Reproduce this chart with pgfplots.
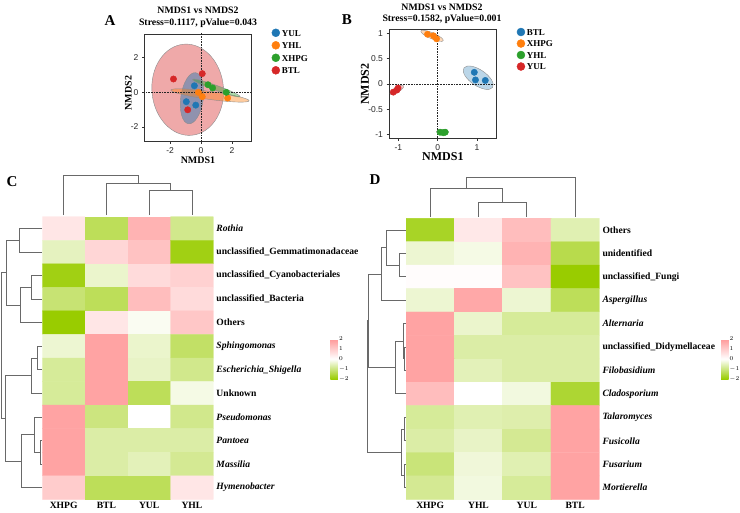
\documentclass[border=0pt]{standalone}
\usepackage{pgfplots}
\usepackage{pgfplotstable}
\pgfplotsset{compat=1.18}
\usetikzlibrary{shapes.geometric}
\usepackage{fontspec}
\setmainfont{Liberation Serif}
\newfontfamily\sansf{Liberation Sans}
\definecolor{tblue}{RGB}{31,119,180}
\definecolor{torange}{RGB}{255,127,14}
\definecolor{tgreen}{RGB}{44,160,44}
\definecolor{tred}{RGB}{214,39,40}
\definecolor{dendro}{RGB}{105,105,105}
\newcommand\tfont{\bfseries\fontsize{9.8}{11}\selectfont}
\newcommand\rowfont{\bfseries\fontsize{9.6}{11}\selectfont}

% confidence ellipse: colour, semi-axes (pt), angle
\tikzset{ell/.style n args={4}{ellipse, inner sep=0pt, outer sep=0pt, fill=#1, fill opacity=0.4,
  draw=black!45, line width=0.4pt, minimum width=2*#2, minimum height=2*#3, rotate=#4}}
\pgfplotsset{
  colormap={hm}{rgb255=(153,204,0) rgb255=(255,255,255) rgb255=(255,153,153)},
  nmds/.style={scale only axis, anchor=south west, tick pos=left, tick align=outside,
    major tick length=2.5pt, clip=true,
    axis line style={black!80, line width=0.6pt}, tick style={black!80, line width=0.6pt},
    ticklabel style={font=\sansf\fontsize{8.5}{9}\selectfont, text=black!85},
    legend style={draw=none, fill=none, inner sep=0pt, outer sep=0pt, anchor=north west,
      font=\bfseries\fontsize{9}{10}\selectfont, row sep=2pt,
      nodes={text height=6.5pt, text depth=0pt}},
    legend cell align=left},
  pt/.style={only marks, mark=*, mark size=3.2pt, color=#1,
    legend image code/.code={\draw[##1, mark size=4pt] plot coordinates {(0pt,0pt)};}},
  heat/.style={scale only axis, anchor=north west,
    xmin=-0.5, xmax=3.5, ymin=-0.5, ymax=11.5, y dir=reverse,
    axis line style={draw=none}, major tick length=0pt, tick style={draw=none},
    xtick={0,1,2,3}, ytick={0,...,11}, yticklabel pos=right,
    ticklabel style={font=\rowfont},
    xticklabel style={anchor=north, inner sep=0pt, yshift=-3pt},
    yticklabel style={anchor=west, inner sep=0pt, xshift=3pt},
    colormap name=hm, point meta min=-2, point meta max=2},
  cbar/.style 2 args={colorbar, colorbar style={at={(parent axis.north east)},
    anchor=north west, xshift=#1, yshift=#2, scale only axis, width=7.5pt, height=40pt,
    axis line style={draw=none}, major tick length=0pt, ytick={-2,-1,0,1,2},
    yticklabel style={font=\bfseries\fontsize{6}{6}\selectfont, inner sep=1pt}}},
  dend/.style={dendro, line width=0.8pt, mark=none},
}

% row z-scores, panel C (columns XHPG, BTL, YUL, YHL)
\pgfplotstableread{
x y c
0 0 0.5
1 0 -1.3
2 0 1.5
3 0 -0.9
0 1 -0.5
1 1 0.8
2 1 1.2
3 1 -1.85
0 2 -1.85
1 2 -0.4
2 2 0.7
3 2 0.9
0 3 -1.1
1 3 -1.3
2 3 1.3
3 3 0.7
0 4 -2.0
1 4 0.5
2 4 -0.1
3 4 1.1
0 5 -0.35
1 5 1.8
2 5 -0.4
3 5 -1.2
0 6 -0.8
1 6 1.8
2 6 -0.45
3 6 -0.9
0 7 -0.8
1 7 1.8
2 7 -1.3
3 7 -0.2
0 8 1.8
1 8 -1.0
2 8 0.0
3 8 -0.9
0 9 1.8
1 9 -0.7
2 9 -0.7
3 9 -0.7
0 10 1.8
1 10 -0.7
2 10 -0.55
3 10 -0.85
0 11 1.0
1 11 -1.3
2 11 -1.3
3 11 0.5
}\hmC

% row z-scores, panel D (columns XHPG, YHL, YUL, BTL)
\pgfplotstableread{
x y c
0 0 -1.7
1 0 0.45
2 0 1.3
3 0 -0.6
0 1 -0.35
1 1 -0.2
2 1 1.5
3 1 -1.4
0 2 0.05
1 2 0.05
2 2 1.2
3 2 -2.0
0 3 -0.35
1 3 1.7
2 3 -0.35
3 3 -1.3
0 4 1.8
1 4 -0.4
2 4 -0.8
3 4 -0.8
0 5 1.8
1 5 -0.7
2 5 -0.7
3 5 -0.7
0 6 1.8
1 6 -0.55
2 6 -0.7
3 6 -0.7
0 7 1.3
1 7 0.0
2 7 -0.25
3 7 -1.6
0 8 -0.8
1 8 -0.6
2 8 -0.65
3 8 1.8
0 9 -0.7
1 9 -0.45
2 9 -0.85
3 9 1.8
0 10 -1.05
1 10 -0.3
2 10 -0.6
3 10 1.8
0 11 -0.85
1 11 -0.25
2 11 -0.8
3 11 1.8
}\hmD

\begin{document}
\begin{tikzpicture}
\useasboundingbox (0pt,0pt) rectangle (740pt,-513pt);

% ---- dendrograms, drawn in pixel coordinates of the whole figure
\begin{axis}[at={(0pt,0pt)}, anchor=north west, scale only axis, width=740pt, height=513pt,
  xmin=0, xmax=740, ymin=0, ymax=513, y dir=reverse, hide axis, clip=false]
% C, columns
\addplot[dend] coordinates {(149.5,215) (149.5,190.7) (192,190.7) (192,215)};
\addplot[dend] coordinates {(106.7,215) (106.7,183.3) (170.75,183.3) (170.75,190.7)};
\addplot[dend] coordinates {(63.7,215) (63.7,175.7) (138.7,175.7) (138.7,183.3)};
% C, rows
\addplot[dend] coordinates {(41.5,228.5) (19,228.5) (19,252) (41.5,252)};
\addplot[dend] coordinates {(41.5,275.6) (31.7,275.6) (31.7,299.1) (41.5,299.1)};
\addplot[dend] coordinates {(31.7,287.35) (20,287.35) (20,322.7) (41.5,322.7)};
\addplot[dend] coordinates {(19,240.25) (6,240.25) (6,305) (20,305)};
\addplot[dend] coordinates {(41.5,346.2) (37.7,346.2) (37.7,369.8) (41.5,369.8)};
\addplot[dend] coordinates {(37.7,358) (31,358) (31,393.3) (41.5,393.3)};
\addplot[dend] coordinates {(41.5,440.4) (40.3,440.4) (40.3,464) (41.5,464)};
\addplot[dend] coordinates {(41.5,416.9) (34.3,416.9) (34.3,452.2) (40.3,452.2)};
\addplot[dend] coordinates {(34.3,434.55) (21.7,434.55) (21.7,487.5) (41.5,487.5)};
\addplot[dend] coordinates {(31,375.65) (5,375.65) (5,461) (21.7,461)};
\addplot[dend] coordinates {(6,272.6) (1.7,272.6) (1.7,418.3) (5,418.3)};
% D, columns
\addplot[dend] coordinates {(478.5,216.7) (478.5,202.3) (526.8,202.3) (526.8,216.7)};
\addplot[dend] coordinates {(430.2,216.7) (430.2,188.3) (502.65,188.3) (502.65,202.3)};
\addplot[dend] coordinates {(466.4,188.3) (466.4,177.3) (575.2,177.3) (575.2,216.7)};
% D, rows
\addplot[dend] coordinates {(405.5,253.4) (399.3,253.4) (399.3,276.8) (405.5,276.8)};
\addplot[dend] coordinates {(405.5,230) (386,230) (386,265.1) (399.3,265.1)};
\addplot[dend] coordinates {(386,247.55) (381,247.55) (381,300.2) (405.5,300.2)};
\addplot[dend] coordinates {(405.5,347) (404.8,347) (404.8,370.4) (405.5,370.4)};
\addplot[dend] coordinates {(405.5,323.6) (403.3,323.6) (403.3,358.7) (404.8,358.7)};
\addplot[dend] coordinates {(403.3,341.15) (395,341.15) (395,393.8) (405.5,393.8)};
\addplot[dend] coordinates {(405.5,417.2) (404.3,417.2) (404.3,440.6) (405.5,440.6)};
\addplot[dend] coordinates {(405.5,464) (404.6,464) (404.6,487.4) (405.5,487.4)};
\addplot[dend] coordinates {(404.3,428.9) (401.7,428.9) (401.7,475.7) (404.6,475.7)};
\addplot[dend] coordinates {(381,273.9) (368.8,273.9) (368.8,367.5) (395,367.5)};
\addplot[dend] coordinates {(368.8,320.7) (367.8,320.7) (367.8,452.3) (401.7,452.3)};
\end{axis}

% ---- panel A
\begin{axis}[nmds, at={(144.5pt,-141.5pt)}, width=107pt, height=107.5pt,
  xmin=-3.65, xmax=3.26, ymin=-2.84, ymax=3.37,
  xtick={-2,0,2}, xticklabels={-2,0,2}, ytick={-2,0,2}, yticklabels={-2,0,2},
  xlabel={NMDS1}, ylabel={NMDS2},
  label style={font=\bfseries\fontsize{10}{11}\selectfont},
  xlabel style={at={(axis description cs:0.5,-0.172)}, anchor=center},
  ylabel style={at={(axis description cs:-0.15,0.45)}, anchor=center},
  legend style={at={(1.19,1.06)}}]
\node[ell={tred}{35.8pt}{45.7pt}{5}] at (axis cs:-0.86,0.15) {};
\node[ell={tblue}{11.3pt}{25.8pt}{-8}, fill opacity=0.45] at (axis cs:-0.58,-0.34) {};
\node[ell={torange}{39.5pt}{4pt}{-7.8}] at (axis cs:0.58,-0.18) {};
\node[ell={tgreen}{25.2pt}{2.5pt}{-20}] at (axis cs:0.99,0.25) {};
\draw[densely dotted, black!85, line width=0.6pt] (axis cs:0,-5) -- (axis cs:0,5);
\draw[densely dotted, black!85, line width=0.6pt] (axis cs:-5,0) -- (axis cs:5,0);
\addplot[pt=tblue] coordinates {(-0.43,0.38) (-0.95,-0.54) (-0.34,-0.74)};
\addlegendentry{YUL}
\addplot[pt=torange] coordinates {(-0.17,0.0) (0.08,-0.25) (1.72,-0.33)};
\addlegendentry{YHL}
\addplot[pt=tgreen] coordinates {(0.45,0.44) (0.75,0.25) (1.63,0.0)};
\addlegendentry{XHPG}
\addplot[pt=tred] coordinates {(-1.78,0.77) (0.08,1.08) (-0.86,-1.01)};
\addlegendentry{BTL}
\end{axis}

% ---- panel B
\begin{axis}[nmds, at={(389pt,-138.3pt)}, width=107.7pt, height=108.6pt,
  xmin=-1.24, xmax=1.50, ymin=-1.07, ymax=1.07,
  xtick={-1,0,1}, xticklabels={-1,0,1},
  ytick={-1,-0.5,0,0.5,1}, yticklabels={-1,-0.5,0,0.5,1},
  xlabel={NMDS1}, ylabel={NMDS2},
  label style={font=\bfseries\fontsize{12}{13}\selectfont},
  xlabel style={at={(axis description cs:0.5,-0.17)}, anchor=center},
  ylabel style={at={(axis description cs:-0.223,0.5)}, anchor=center},
  legend style={at={(1.188,1.027)}, row sep=1pt}]
\node[ell={tblue}{17.3pt}{8pt}{-34}, fill opacity=0.3] at (axis cs:1.03,0.124) {};
\node[ell={torange}{12.2pt}{3pt}{-23.5}, fill opacity=0.3] at (axis cs:-0.145,0.95) {};
\node[ell={tgreen}{6pt}{2.5pt}{0}, fill opacity=0.3] at (axis cs:0.12,-0.94) {};
\node[ell={tred}{7.8pt}{2.5pt}{31}, fill opacity=0.3] at (axis cs:-1.04,-0.118) {};
\draw[densely dotted, black!85, line width=0.6pt] (axis cs:0,-5) -- (axis cs:0,5);
\draw[densely dotted, black!85, line width=0.6pt] (axis cs:-5,0) -- (axis cs:5,0);
\addplot[pt=tblue] coordinates {(0.93,0.23) (0.96,0.08) (1.21,0.07)};
\addlegendentry{BTL}
\addplot[pt=torange] coordinates {(-0.26,0.98) (-0.11,0.95) (-0.03,0.89)};
\addlegendentry{XHPG}
\addplot[pt=tgreen] coordinates {(0.06,-0.95) (0.14,-0.96) (0.19,-0.95)};
\addlegendentry{YHL}
\addplot[pt=tred] coordinates {(-1.13,-0.16) (-1.04,-0.12) (-1.01,-0.08)};
\addlegendentry{YUL}
\end{axis}

% ---- panel C
\begin{axis}[heat, at={(42.3pt,-216.7pt)}, width=171pt, height=282.6pt,
  xticklabels={XHPG,BTL,YUL,YHL},
  yticklabels={\textit{Rothia}, unclassified\_Gemmatimonadaceae, unclassified\_Cyanobacteriales,
    unclassified\_Bacteria, Others, \textit{Sphingomonas}, \textit{Escherichia\_Shigella}, Unknown,
    \textit{Pseudomonas}, \textit{Pantoea}, \textit{Massilia}, \textit{Hymenobacter}},
  cbar={108.5pt}{-122.3pt}]
\addplot[matrix plot*, mesh/cols=4, point meta=explicit] table[x=x, y=y, meta=c] {\hmC};
\end{axis}

% ---- panel D
\begin{axis}[heat, at={(406pt,-218.3pt)}, width=193.3pt, height=281pt,
  xticklabels={XHPG,YHL,YUL,BTL},
  yticklabels={Others, unidentified, unclassified\_Fungi, \textit{Aspergillus}, \textit{Alternaria},
    unclassified\_Didymellaceae, \textit{Filobasidium}, \textit{Cladosporium}, \textit{Talaromyces},
    \textit{Fusicolla}, \textit{Fusarium}, \textit{Mortierella}},
  cbar={113.2pt}{-120.7pt}]
\addplot[matrix plot*, mesh/cols=4, point meta=explicit] table[x=x, y=y, meta=c] {\hmD};
\end{axis}

% ---- titles and panel letters
\node[font=\tfont] at (198pt,-10pt) {NMDS1 vs NMDS2};
\node[font=\tfont] at (198pt,-23.5pt) {Stress=0.1117, pValue=0.043};
\node[font=\tfont] at (442pt,-7.5pt) {NMDS1 vs NMDS2};
\node[font=\tfont] at (442pt,-19.5pt) {Stress=0.1582, pValue=0.001};
\node[font=\bfseries\fontsize{15}{15}\selectfont] at (110pt,-21pt) {A};
\node[font=\bfseries\fontsize{15}{15}\selectfont] at (347pt,-20pt) {B};
\node[font=\bfseries\fontsize{15}{15}\selectfont] at (12pt,-182pt) {C};
\node[font=\bfseries\fontsize{15}{15}\selectfont] at (375pt,-180pt) {D};
\end{tikzpicture}
\end{document}
